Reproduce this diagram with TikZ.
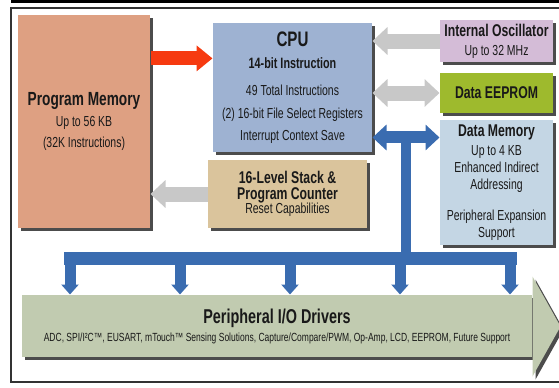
\documentclass[tikz,border=0pt]{standalone}
\usepackage{fontspec}
\setmainfont{Liberation Sans}
\newfontfamily\narrowfont[FakeStretch=0.72]{Liberation Sans}
\usetikzlibrary{arrows.meta,shadows,calc}

\definecolor{pmfill}{RGB}{222,160,130}
\definecolor{cpufill}{RGB}{158,178,210}
\definecolor{oscfill}{RGB}{212,188,215}
\definecolor{eepfill}{RGB}{158,186,45}
\definecolor{dmemfill}{RGB}{196,214,228}
\definecolor{stackfill}{RGB}{218,196,156}
\definecolor{bandfill}{RGB}{193,203,176}
\definecolor{busblue}{RGB}{58,108,176}
\definecolor{fetchred}{RGB}{246,58,16}
\definecolor{arrowgray}{RGB}{200,200,200}

\newcommand{\boxhead}[2]{{\bfseries\fontsize{#1}{#1}\selectfont #2}}

\tikzset{every picture/.style={line width=0.75pt}}

\begin{document}
\begin{tikzpicture}[x=0.75pt,y=0.75pt,yscale=-1,xscale=1,
  box/.style={draw=none, inner sep=0pt, align=center, text=black!90,
    font=\narrowfont\fontsize{10.9pt}{13pt}\selectfont,
    general shadow={fill=black!70, shadow xshift=2.25pt, shadow yshift=-2.25pt}},
  grayarrow/.style={draw=arrowgray, line width=11.25pt, -{Triangle[length=11.25pt,width=20.25pt]}},
  graydouble/.style={draw=arrowgray, line width=11.25pt, {Triangle[length=11.25pt,width=20.25pt]}-{Triangle[length=11.25pt,width=20.25pt]}},
  bluedouble/.style={draw=busblue, line width=9pt, {Triangle[length=10.5pt,width=18.75pt]}-{Triangle[length=10.5pt,width=18.75pt]}},
  bus/.style={draw=busblue, line width=9.75pt, line cap=rect},
  trunkline/.style={draw=busblue, line width=7.5pt},
  busstem/.style={draw=busblue, line width=8.25pt, -{Triangle[length=7.5pt,width=12.75pt]}},
  fetch/.style={draw=fetchred, line width=10.5pt, -{Triangle[length=12pt,width=18.75pt]}}
]
\useasboundingbox (0,0) rectangle (559,387);

%Frame
\begin{scope}
\clip (0,0) rectangle (559,387);
\draw [line width=2.25pt] (11,1.5) -- (559,1.5) ;
\draw [color=black!80, line width=1.5pt] (11,8) -- (575,8) -- (575,382) -- (11,382) -- cycle ;
\end{scope}

%Blocks
\node [box, fill=pmfill, minimum width=99pt, minimum height=159.75pt] (pm) at (84,121.5)
  {\boxhead{14.25pt}{Program Memory}\\[3pt] Up to 56 KB\\[2.75pt] (32K Instructions)};
\node [box, fill=cpufill, minimum width=119.25pt, minimum height=96.75pt,
  font=\narrowfont\fontsize{10.9pt}{17pt}\selectfont] (cpu) at (292.5,87.5)
  {\boxhead{15.75pt}{CPU}\\ \boxhead{11.25pt}{14-bit Instruction}\\[3pt] 49 Total Instructions\\ (2) 16-bit File Select Registers\\[-0.5pt] Interrupt Context Save};
\node [box, fill=oscfill, minimum width=84.75pt, minimum height=31.5pt,
  font=\narrowfont\fontsize{10.9pt}{14.3pt}\selectfont] (osc) at (496.5,41)
  {\boxhead{12.75pt}{Internal Oscillator}\\ Up to 32 MHz};
\node [box, fill=eepfill, minimum width=84.75pt, minimum height=30pt] (eeprom) at (496.5,93)
  {\boxhead{12.75pt}{Data EEPROM}};
\node [box, fill=dmemfill, minimum width=84.75pt, minimum height=93.75pt,
  font=\narrowfont\fontsize{10.9pt}{12.75pt}\selectfont] (dmem) at (496.5,182.5)
  {\boxhead{12.75pt}{Data Memory}\\[1.5pt] Up to 4 KB\\ Enhanced Indirect\\ Addressing\\[10.5pt] Peripheral Expansion\\ Support};
\node [box, fill=stackfill, minimum width=119.25pt, minimum height=51pt,
  font=\narrowfont\fontsize{10.9pt}{12pt}\selectfont] (stack) at (287.5,194)
  {\boxhead{12.75pt}{16-Level Stack \&}\\ \boxhead{12.75pt}{Program Counter}\\[-1.5pt] Reset Capabilities};

%Peripheral band
\node [box, fill=bandfill, minimum width=382.5pt, minimum height=46.5pt,
  font=\narrowfont\fontsize{8.85pt}{13.5pt}\selectfont] (periph) at (277,326)
  {\boxhead{15pt}{Peripheral I/O Drivers}\\ ADC, SPI/I²C™, EUSART, mTouch™ Sensing Solutions, Capture/Compare/PWM, Op-Amp, LCD, EEPROM, Future Support};
\fill [bandfill, general shadow={fill=black!70, shadow xshift=2.25pt, shadow yshift=-2.25pt}]
  (periph.north east) -- ++(0,-18) -- ++(28,50) -- ++(-28,50) -- ++(0,-20) -- cycle ;

%Arrows
\draw [fetch] (pm.east |- cpu.160) -- (cpu.160) ;
\draw [grayarrow] (osc.west) -- (osc.west -| cpu.east) ;
\draw [graydouble] (cpu.east |- eeprom.west) -- (eeprom.west) ;
\draw [grayarrow] (stack.west) -- (stack.west -| pm.east) ;
\draw [bluedouble] (cpu.-32) -- (cpu.-32 -| dmem.west) ;

%Bus
\coordinate (trunk) at ($(cpu.-32)!0.5!(cpu.-32 -| dmem.west)$);
\foreach \i/\x in {1/70,2/180,3/290,4/400,5/510}
  \coordinate (bus\i) at (\x,258);
\draw [trunkline] (trunk) -- (trunk |- bus1) ;
\draw [bus] (bus1) -- (bus5) ;
\foreach \i in {1,...,5}
  \draw [busstem] (bus\i) -- (bus\i |- periph.north) ;

\end{tikzpicture}
\end{document}
